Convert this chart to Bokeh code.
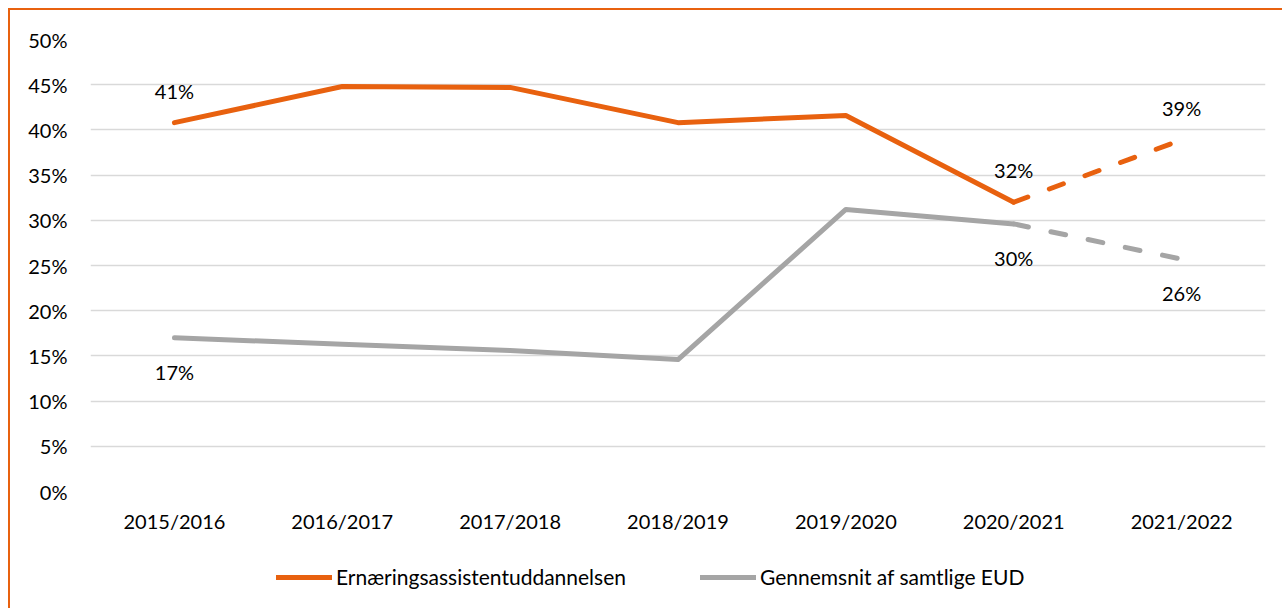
from bokeh.plotting import figure
from bokeh.layouts import column
from bokeh.models import ColumnDataSource, Legend, LegendItem, FactorRange, FixedTicker
from bokeh.core.properties import value
from bokeh.embed import file_html
from bokeh.resources import INLINE

years = ["2015/2016", "2016/2017", "2017/2018", "2018/2019", "2019/2020", "2020/2021", "2021/2022"]
ernaering = [40.8, 44.8, 44.7, 40.8, 41.6, 32.0, 38.9]
gennemsnit = [17.0, 16.3, 15.6, 14.6, 31.2, 29.6, 25.7]
label_years = ["2015/2016", "2020/2021", "2021/2022"]
series_names = ["Ernæringsassistentuddannelsen", "Gennemsnit af samtlige EUD"]
y_ticks = [0, 5, 10, 15, 20, 25, 30, 35, 40, 45, 50]

ORANGE = "#E8610F"
GRAY = "#A5A5A5"
FONT = "Lato"

p = figure(x_range=FactorRange(*years, range_padding=0), y_range=(0, 50),
           width=1272, height=539, output_backend="svg", toolbar_location=None,
           min_border_left=80, min_border_right=17, min_border_top=29, min_border_bottom=58)
p.outline_line_color = None
p.xgrid.grid_line_color = None
p.ygrid.grid_line_color = "#D9D9D9"
p.ygrid.grid_line_width = 1.5
p.yaxis.ticker = FixedTicker(ticks=y_ticks)
p.yaxis.major_label_overrides = {t: f"{t}%" for t in y_ticks}
for ax in (p.xaxis, p.yaxis):
    ax.axis_line_color = None
    ax.major_tick_line_color = None
    ax.minor_tick_line_color = None
    ax.major_tick_out = 0
    ax.major_tick_in = 0
    ax.major_label_text_font = FONT
    ax.major_label_text_font_size = "20px"
    ax.major_label_text_color = "#000000"
p.yaxis.major_label_standoff = 23
p.xaxis.major_label_standoff = 17

# legend strip below the chart (shares the category axis; its y view lies above the data,
# so the legend's own renderers draw nothing visible)
p2 = figure(x_range=p.x_range, y_range=(100, 101), width=1272, height=59, output_backend="svg",
            toolbar_location=None, x_axis_location=None, y_axis_location=None,
            min_border=0, min_border_left=80, min_border_right=17, min_border_top=0, min_border_bottom=0)
p2.outline_line_color = None
p2.xgrid.grid_line_color = None
p2.ygrid.grid_line_color = None

leg_renderers = []
for vals, color in ((ernaering, ORANGE), (gennemsnit, GRAY)):
    solid = ColumnDataSource(dict(x=years[:6], y=vals[:6]))
    dashed = ColumnDataSource(dict(x=years[5:], y=vals[5:]))
    p.line("x", "y", source=solid, line_color=color, line_width=5, line_cap="round", line_join="round")
    p.line("x", "y", source=dashed, line_color=color, line_width=5, line_cap="round", line_dash="15 23")
    leg_renderers.append(p2.line("x", "y", source=solid, line_color=color, line_width=5, line_cap="round"))

for vals, off in ((ernaering, -32), (gennemsnit, 34)):
    lx = [y for y in label_years]
    ly = [vals[years.index(y)] for y in label_years]
    lt = [f"{round(v):d}%" for v in ly]
    src = ColumnDataSource(dict(x=lx, y=ly, t=lt))
    p.text("x", "y", text="t", source=src, y_offset=off, text_align="center", text_baseline="middle",
           text_font=value(FONT), text_font_size="20px", text_color="#000000")

legend = Legend(items=[LegendItem(label=series_names[0], renderers=[leg_renderers[0]]),
                       LegendItem(label=series_names[1], renderers=[leg_renderers[1]])],
                orientation="horizontal", location=(186, 19), padding=0, margin=0,
                border_line_color=None, background_fill_alpha=0,
                glyph_width=56, glyph_height=24, label_standoff=4, spacing=74,
                label_text_font=FONT, label_text_font_size="21px", label_text_color="#000000")
p2.add_layout(legend, "center")

layout = column(p, p2, spacing=0,
                styles={"border-left": "2px solid " + ORANGE, "border-top": "2px solid " + ORANGE,
                        "margin-left": "8px", "margin-top": "8px"})

open("out.html", "w").write(file_html(layout, INLINE))
